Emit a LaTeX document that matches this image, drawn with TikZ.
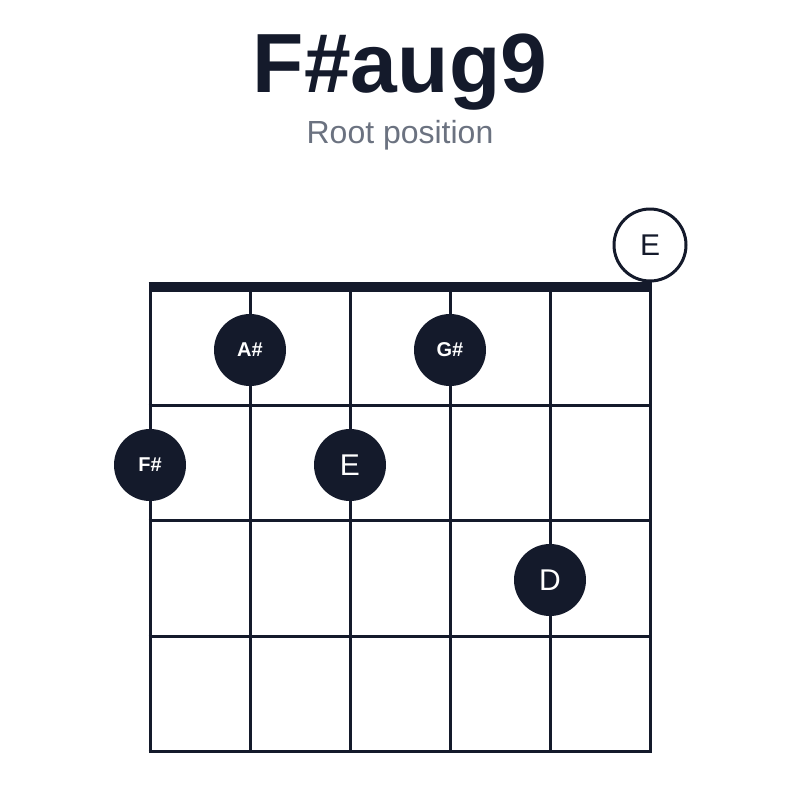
\documentclass[tikz,border=0pt]{standalone}
\usepackage{fontspec}
\setmainfont{Liberation Sans}
\definecolor{ink}{HTML}{141A2B}
\definecolor{sub}{HTML}{6B7280}
\begin{document}
\begin{tikzpicture}[x=1pt,y=-1pt,
  grid/.style={draw=ink,line width=3pt},
  dot/.style={circle,fill=ink,text=white,minimum size=72pt,inner sep=0pt},
  open/.style={circle,fill=white,draw=ink,line width=3pt,text=ink,minimum size=72pt,inner sep=0pt},
  small/.style={font=\fontsize{20}{20}\selectfont\bfseries},
  big/.style={font=\fontsize{30}{30}\selectfont}]
\useasboundingbox (0,0) rectangle (800,800);
\node[text=ink,font=\fontsize{84}{84}\selectfont\bfseries] (title) at (400,72) {F\#aug9};
\node[text=sub,font=\fontsize{32}{32}\selectfont] (subtitle) at (400,135) {Root position};
\foreach \x in {150,250,350,450,550,650} \draw[grid] (\x,287) -- (\x,752);
\foreach \y in {405,520,636,751} \draw[grid] (148.5,\y) -- (651.5,\y);
\draw[draw=ink,line width=10pt] (148.5,287) -- (651.5,287);
\node[dot,small] (as) at (250,350) {A\#};
\node[dot,small] (gs) at (450,350) {G\#};
\node[dot,small] (fs) at (150,465) {F\#};
\node[dot,big] (e) at (350,465) {E};
\node[dot,big] (d) at (550,580) {D};
\node[open,big] (oe) at (650,245) {E};
\end{tikzpicture}
\end{document}
